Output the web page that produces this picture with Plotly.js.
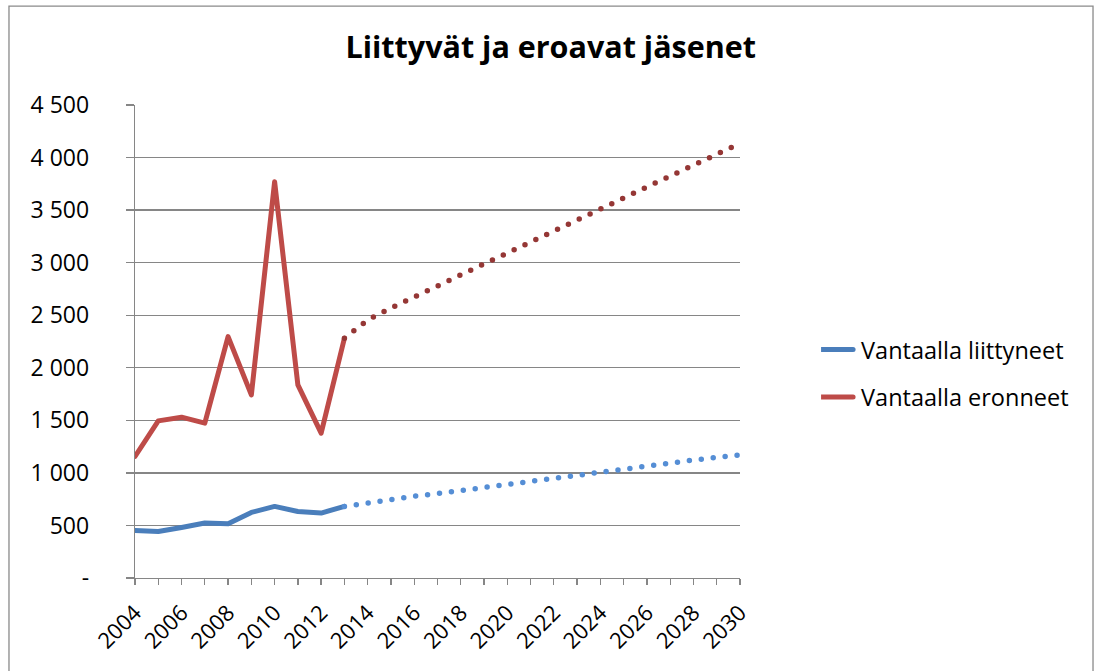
<!DOCTYPE html>
<html>
<head>
<meta charset="utf-8">
<script src="https://cdn.plot.ly/plotly-3.0.1.min.js"></script>
<style>
html,body{margin:0;padding:0;background:#fff;}
#chart{width:1095px;height:671px;}
.js-line{stroke-linecap:round;stroke-linejoin:round;}
.legendlines path{stroke-linecap:round;}
</style>
</head>
<body>
<div id="chart"></div>
<script>
// Observed data 2004-2013
const yearsActual = [2004, 2005, 2006, 2007, 2008, 2009, 2010, 2011, 2012, 2013];
const liittyneet = [452, 443, 481, 523, 516, 624, 681, 633, 618, 681];
const eronneet = [1156, 1495, 1530, 1473, 2297, 1742, 3770, 1837, 1378, 2281];

// Trend (dotted) 2013-2030
const yearsTrend = [2013, 2014, 2015, 2016, 2017, 2018, 2019, 2020, 2021, 2022, 2023, 2024, 2025, 2026, 2027, 2028, 2029, 2030];
const liittyneetTrend = [681, 716, 754, 779, 803, 833, 861, 890, 916, 947, 975, 1004, 1032, 1061, 1093, 1122, 1147, 1172];
const eronneetTrend = [2281, 2455, 2569, 2677, 2782, 2883, 2988, 3092, 3194, 3301, 3406, 3510, 3615, 3720, 3824, 3929, 4033, 4135];

const yTickVals = [0, 500, 1000, 1500, 2000, 2500, 3000, 3500, 4000, 4500];
const yTickText = ['-', '500', '1 000', '1 500', '2 000', '2 500', '3 000', '3 500', '4 000', '4 500'];
const xTickVals = [2004, 2006, 2008, 2010, 2012, 2014, 2016, 2018, 2020, 2022, 2024, 2026, 2028, 2030];

const FONT = '"Open Sans", "Liberation Sans", sans-serif';
const AXIS = '#868686';

const traces = [
  {x: yearsActual, y: liittyneet, mode: 'lines', name: 'Vantaalla liittyneet',
   legendgroup: 'a', line: {color: '#4A7EBB', width: 5}, hoverinfo: 'skip'},
  {x: yearsActual, y: eronneet, mode: 'lines', name: 'Vantaalla eronneet',
   legendgroup: 'b', line: {color: '#BE4B48', width: 5}, hoverinfo: 'skip'},
  {x: yearsTrend, y: liittyneetTrend, mode: 'lines', showlegend: false,
   line: {color: '#558ED5', width: 5.5, dash: '0px,12px'}, hoverinfo: 'skip'},
  {x: yearsTrend, y: eronneetTrend, mode: 'lines', showlegend: false,
   line: {color: '#953735', width: 5.5, dash: '0px,12px'}, hoverinfo: 'skip'}
];

const layout = {
  width: 1095, height: 671,
  paper_bgcolor: '#ffffff', plot_bgcolor: '#ffffff',
  margin: {l: 135, r: 355, t: 105, b: 93, pad: 0},
  font: {family: FONT, color: '#000000', size: 22},
  title: {text: '<b>Liittyvät ja eroavat jäsenet</b>', x: 0.503, xanchor: 'center',
          y: 0.929, yanchor: 'middle', xref: 'container', yref: 'container',
          font: {family: FONT, size: 30.5, color: '#000000'}},
  xaxis: {range: [2004, 2030], tickvals: xTickVals, ticktext: xTickVals.map(String),
          tickangle: -45, ticks: 'outside', ticklen: 6, tickwidth: 1.3, tickcolor: AXIS,
          ticklabelstandoff: 6,
          showline: true, linecolor: AXIS, linewidth: 1.3, showgrid: false, zeroline: false,
          minor: {dtick: 1, tick0: 2004, ticks: 'outside', ticklen: 6, tickwidth: 1.3, tickcolor: AXIS, showgrid: false},
          tickfont: {family: FONT, size: 22, color: '#000'}, fixedrange: true},
  yaxis: {range: [0, 4500], tickvals: yTickVals, ticktext: yTickText,
          ticks: 'outside', ticklen: 8, tickwidth: 1.3, tickcolor: AXIS,
          showline: true, linecolor: AXIS, linewidth: 1.3,
          showgrid: true, gridcolor: AXIS, gridwidth: 1.3, zeroline: false,
          ticklabelstandoff: 32,
          tickfont: {family: FONT, size: 23, color: '#000'}, fixedrange: true},
  legend: {x: 1.134, xanchor: 'left', y: 0.432, yanchor: 'middle',
           font: {family: FONT, size: 23.5, color: '#000'},
           bgcolor: 'rgba(0,0,0,0)', borderwidth: 0,
           traceorder: 'grouped', tracegroupgap: 14, itemwidth: 30},
  shapes: [{type: 'rect', xref: 'paper', yref: 'paper',
            x0: -0.2083, x1: 1.5835, y0: -0.3, y1: 1.209,
            line: {color: '#8a8a8a', width: 1.3}, fillcolor: 'rgba(0,0,0,0)', layer: 'below'}],
  showlegend: true
};

Plotly.newPlot('chart', traces, layout, {staticPlot: true, displayModeBar: false}).then(function (gd) {
  // lengthen legend line samples to match the reference
  gd.querySelectorAll('.legendlines path').forEach(function (p) {
    p.setAttribute('d', 'M-18,0h50');
  });
});
</script>
</body>
</html>
